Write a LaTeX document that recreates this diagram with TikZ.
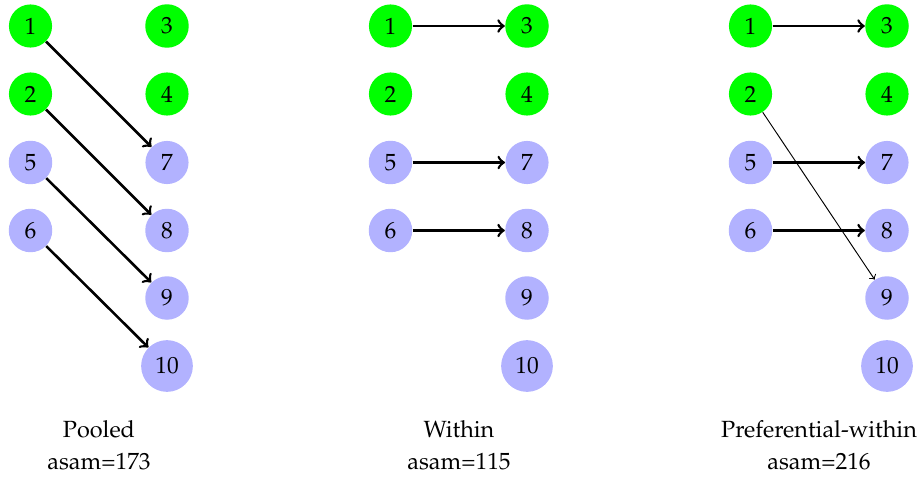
\documentclass[tikz,border=0pt]{standalone}
\usepackage[T1]{fontenc}
\usepackage{mathpazo}
\begin{document}
\begin{tikzpicture}[x=0.427pt,y=-0.427pt,
  gnode/.style={circle,fill=green,inner sep=3.5pt},
  bnode/.style={circle,fill=blue!30,inner sep=3.5pt},
  arr/.style={->,line width=1.1pt},
  thinarr/.style={->,thin},
  lab/.style={align=center,anchor=base}]
\useasboundingbox (0,0) rectangle (923,477);
\foreach \p/\dx in {a/0,b/360,c/720}{
  \node[gnode] (\p1) at (30.5+\dx,26) {1};
  \node[gnode] (\p2) at (30.5+\dx,94) {2};
  \node[bnode] (\p5) at (30.5+\dx,162.5) {5};
  \node[bnode] (\p6) at (30.5+\dx,230.5) {6};
  \node[gnode] (\p3) at (167+\dx,26) {3};
  \node[gnode] (\p4) at (167+\dx,94) {4};
  \node[bnode] (\p7) at (167+\dx,162.5) {7};
  \node[bnode] (\p8) at (167+\dx,230.5) {8};
  \node[bnode] (\p9) at (167+\dx,298) {9};
  \node[bnode] (\p10) at (167+\dx,366) {10};
}
\draw[arr] (a1) -- (a7);
\draw[arr] (a2) -- (a8);
\draw[arr] (a5) -- (a9);
\draw[arr] (a6) -- (a10);
\draw[arr] (b1) -- (b3);
\draw[arr] (b5) -- (b7);
\draw[arr] (b6) -- (b8);
\draw[arr] (c1) -- (c3);
\draw[arr] (c5) -- (c7);
\draw[arr] (c6) -- (c8);
\draw[thinarr] (c2) -- (c9);
\node[lab] (la) at (99,469.5) {Pooled\\[1.5pt]asam=173};
\node[lab] (lb) at (459,469.5) {Within\\[1.5pt]asam=115};
\node[lab] (lc) at (819,469.5) {Preferential-within\\[1.5pt]asam=216};
\end{tikzpicture}
\end{document}
